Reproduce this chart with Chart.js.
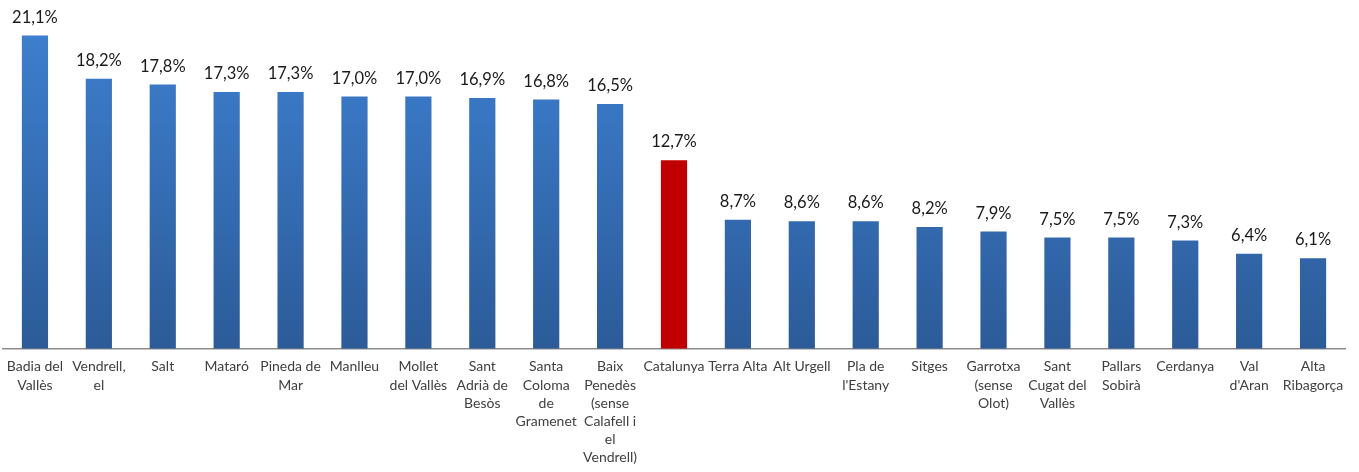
<!DOCTYPE html>
<html>
<head>
<meta charset="utf-8">
<script src="https://cdn.jsdelivr.net/npm/chart.js@4"></script>
<style>
  html, body { margin: 0; padding: 0; background: #fff; }
  #wrap { width: 1359px; height: 472px; }
</style>
</head>
<body>
<div id="wrap"><canvas id="barChart"></canvas></div>
<script>
// Categories (multi-line labels as in the original)
var categories = [
  ["Badia del", "Vallès"],
  ["Vendrell,", "el"],
  "Salt",
  "Mataró",
  ["Pineda de", "Mar"],
  "Manlleu",
  ["Mollet", "del Vallès"],
  ["Sant", "Adrià de", "Besòs"],
  ["Santa", "Coloma", "de", "Gramenet"],
  ["Baix", "Penedès", "(sense", "Calafell i", "el", "Vendrell)"],
  "Catalunya",
  "Terra Alta",
  "Alt Urgell",
  ["Pla de", "l'Estany"],
  "Sitges",
  ["Garrotxa", "(sense", "Olot)"],
  ["Sant", "Cugat del", "Vallès"],
  ["Pallars", "Sobirà"],
  "Cerdanya",
  ["Val", "d'Aran"],
  ["Alta", "Ribagorça"]
];

// Percentages
var values = [21.1, 18.2, 17.8, 17.3, 17.3, 17.0, 17.0, 16.9, 16.8, 16.5,
              12.7, 8.7, 8.6, 8.6, 8.2, 7.9, 7.5, 7.5, 7.3, 6.4, 6.1];

// Highlighted category
var highlight = "Catalunya";

// Blue gradient like the office chart, red for Catalunya
function barColor(c) {
  var idx = c.dataIndex;
  if (categories[idx] === highlight) return "#C00000";
  var area = c.chart.chartArea;
  if (!area) return "#3A78C8";
  var g = c.chart.ctx.createLinearGradient(0, area.top, 0, area.bottom);
  g.addColorStop(0, "#3F82D4");
  g.addColorStop(1, "#2C5B98");
  return g;
}

// Value labels above bars ("21,1%")
var valueLabels = {
  id: "valueLabels",
  afterDatasetsDraw: function (chart) {
    var ctx = chart.ctx;
    var meta = chart.getDatasetMeta(0);
    ctx.save();
    ctx.font = "16.5px Lato";
    ctx.fillStyle = "#1a1a1a";
    ctx.textAlign = "center";
    ctx.textBaseline = "bottom";
    meta.data.forEach(function (bar, i) {
      var txt = values[i].toFixed(1).replace(".", ",") + "%";
      ctx.fillText(txt, bar.x, bar.y - 10);
    });
    ctx.restore();
  }
};

var ctx = document.getElementById("barChart").getContext("2d");
var barChart = new Chart(ctx, {
  type: "bar",
  data: {
    labels: categories,
    datasets: [{
      data: values,
      backgroundColor: barColor,
      borderWidth: 0,
      barPercentage: 0.41,
      categoryPercentage: 1.0
    }]
  },
  options: {
    responsive: true,
    maintainAspectRatio: false,
    animation: false,
    layout: { padding: { left: 3, right: 14, top: 0, bottom: 4 } },
    plugins: {
      legend: { display: false },
      tooltip: { enabled: false }
    },
    scales: {
      y: {
        display: false,
        min: 0,
        max: 23.5
      },
      x: {
        grid: { display: false },
        border: { display: true, color: "#8c8c8c", width: 1.5 },
        ticks: {
          autoSkip: false,
          maxRotation: 0,
          minRotation: 0,
          padding: 1,
          color: "#404040",
          font: { family: "Lato", size: 14, lineHeight: 1.3 }
        }
      }
    }
  },
  plugins: [valueLabels]
});
</script>
</body>
</html>
